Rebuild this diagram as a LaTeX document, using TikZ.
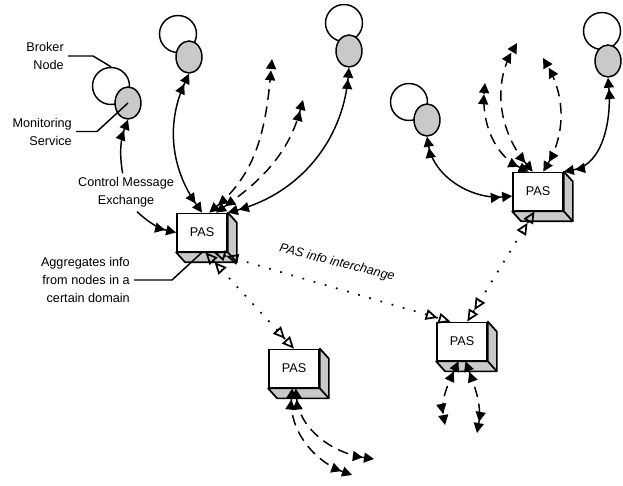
\documentclass[tikz,border=0pt]{standalone}
\usepackage{fontspec}
\setmainfont{Liberation Sans}
\usepackage{tikz}
\usetikzlibrary{arrows.meta}
\usetikzlibrary{shapes.geometric}
\tikzset{fat/.tip={Triangle[length=7.5pt,width=7.5pt,sep=1pt] Triangle[length=7.5pt,width=7.5pt]}}
\tikzset{hollow/.tip={Triangle[open,length=9pt,width=8pt,sep=1pt] Triangle[open,length=9pt,width=8pt]}}
\tikzset{ring/.style={draw,circle,line width=1.1pt,minimum size=27.75pt,inner sep=0pt}}
\tikzset{mon/.style={draw,ellipse,fill=black!21,line width=1.1pt,
                     minimum width=19.5pt,minimum height=24pt,inner sep=0pt}}
\tikzset{pas/.style={draw,fill=white,line width=1.3pt,
                     minimum width=37.5pt,minimum height=28.5pt,inner sep=0pt}}
\tikzset{face/.style={fill=black!21,line width=1.3pt,line join=round}}
\tikzset{lbl/.style={align=right,inner sep=3pt}}
\tikzset{ctl/.style={line width=1.1pt}}
\tikzset{dsh/.style={ctl,dash pattern=on 8pt off 5pt}}
\tikzset{dot/.style={line width=1.3pt,dash pattern=on 1.3pt off 7.4pt}}
\newcommand{\pasbox}[2]{%
  \node[pas] (#1) at (#2) {PAS};
  \filldraw[face] (#1.north east) -- ++(9,-10) -- ([shift={(9,-10)}]#1.south east)
     -- ([shift={(9,-10)}]#1.south west) -- (#1.south west) -- (#1.south east) -- cycle;
  \draw[face] (#1.south east) -- ++(9,-10);
}

\begin{document}
\begin{tikzpicture}[x=0.75pt,y=0.75pt,font=\fontsize{9.5}{13.5}\selectfont]
    \useasboundingbox (0,0) rectangle (623,485);

    % Draw the broker nodes and their monitoring services
    \foreach \n/\x/\y/\gx/\gy in {1/111/399/128/382,2/178/451/189/428,3/344/462/349/434,
                                   4/409/383/427/365,5/602/454/608/424}
    {
        \node[ring] (r\n) at (\x,\y) {};
        \node[mon] (m\n) at (\gx,\gy) {};
    }

    % Draw the PAS boxes
    \foreach \n/\x/\y in {1/202/252.5,2/538/293.5,3/462/143.5,4/294/116.5}
        {\pasbox{pas\n}{\x,\y}}

    % Labels
    \node[lbl,anchor=east] (lbBroker) at (68,429) {Broker\\Node};
    \node[lbl,anchor=east] (lbMon) at (76,353.5) {Monitoring\\Service};
    \node[lbl,align=center] (lbCtl) at (126,292.5) {Control Message\\Exchange};
    \node[lbl,anchor=east] (lbAgg) at (134,205) {Aggregates info\\from nodes in a\\certain domain};
    \node[lbl,rotate=-14,font=\fontsize{9.5}{13.5}\selectfont\itshape] (lbInfo) at (337,222) {PAS info interchange};

    % Free ends of the open connectors
    \coordinate (t1) at (272,426);
    \coordinate (t2) at (303,385);
    \coordinate (u1) at (485,402);
    \coordinate (u2) at (517,442);
    \coordinate (u3) at (543,427);
    \coordinate (v1) at (445,60);
    \coordinate (v2) at (477,52);
    \coordinate (w1) at (374,26);
    \coordinate (w2) at (352,10);

    % Leader lines of the labels
    \draw[ctl] (lbBroker.east) -- ++(25,0) -- (r1.north);
    \draw[ctl] (lbMon.east) -- ++(21,0) -- (m1.center);
    \draw[ctl] (lbAgg.east) -- ++(38,0) -- (pas1.south);

    % Control message exchange
    \draw[ctl,-fat] (lbCtl.100) to[bend left=15] (m1.south);
    \draw[ctl,-fat] (lbCtl.-60) to[bend right=15] (pas1.west);

    % Connect the first PAS with its brokers
    \draw[ctl,fat-fat] (m2.south) to[out=-115,in=125] (pas1.north);
    \draw[dsh,fat-fat] (pas1.70) to[out=40,in=-95] (t1);
    \draw[dsh,fat-fat] (pas1.55) to[out=35,in=-105] (t2);
    \draw[ctl,fat-fat] (pas1.north east) to[out=15,in=-95] (m3.south);

    % Connect the second PAS with its brokers
    \draw[ctl,fat-fat] (m4.south) to[out=-80,in=185] (pas2.190);
    \draw[ctl,fat-fat] (pas2.north east) to[out=10,in=-85] (m5.south);
    \draw[dsh,fat-fat] (pas2.115) to[out=155,in=-95] (u1);
    \draw[dsh,fat-fat] (pas2.105) to[out=130,in=-120] (u2);
    \draw[dsh,fat-fat] (pas2.75) to[out=60,in=-60] (u3);

    % Links below the lower PAS boxes
    \draw[dsh,fat-fat] (pas3.-100) to[out=-115,in=100] (v1);
    \draw[dsh,fat-fat] (pas3.-80) to[out=-70,in=80] (v2);
    \draw[dsh,fat-fat] (pas4.-85) to[out=-85,in=172] (w1);
    \draw[dsh,fat-fat] (pas4.-95) to[out=-95,in=160] (w2);

    % PAS info interchange
    \draw[dot,hollow-hollow] (pas1.-60) -- (pas3.120);
    \draw[dot,hollow-hollow] (pas1.-80) -- (pas4.north);
    \draw[dot,hollow-hollow] (pas2.-100) -- (pas3.75);
\end{tikzpicture}
\end{document}
